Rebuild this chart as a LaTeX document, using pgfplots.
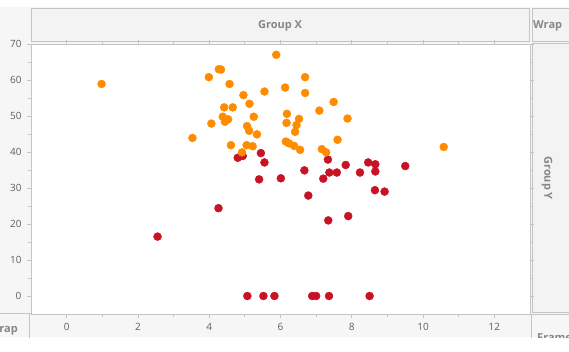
\documentclass[border=0pt]{standalone}
\usepackage{fontspec}
\setmainfont{Open Sans}
\usepackage{pgfplots}
\pgfplotsset{compat=1.18}
\definecolor{jorange}{RGB}{255,140,0}
\definecolor{jred}{RGB}{200,18,38}
\definecolor{bggray}{RGB}{246,246,246}
\definecolor{hdrgray}{RGB}{243,243,243}
\definecolor{linegray}{RGB}{196,196,196}
\definecolor{txtgray}{RGB}{135,135,135}
\definecolor{ticktxt}{RGB}{95,95,95}
\begin{document}
\begin{tikzpicture}
\useasboundingbox (0pt,0pt) rectangle (569pt,351pt);
\fill[white] (0pt,0pt) rectangle (569pt,351pt);
\fill[bggray] (0pt,14pt) rectangle (569pt,344pt);
\begin{scope}[x=1pt,y=1pt]
\clip (0,14) rectangle (569,351);
% top header
\filldraw[fill=hdrgray, draw=linegray, line width=1pt] (31,309) rectangle (529,342);
\node[font=\bfseries\fontsize{11}{13}\selectfont, text=txtgray] at (280,325.5) {Group X};
\filldraw[fill=hdrgray, draw=linegray, line width=1pt] (532,309) rectangle (580,342);
\node[anchor=west, font=\bfseries\fontsize{11}{13}\selectfont, text=txtgray, inner sep=0pt] at (533,325.5) {Wrap};
% right panel
\filldraw[fill=hdrgray, draw=linegray, line width=1pt] (532,39) rectangle (580,307);
\node[rotate=-90, font=\bfseries\fontsize{11}{13}\selectfont, text=txtgray] at (547,173) {Group Y};
% bottom right panel
\draw[linegray, line width=1pt] (531.5,0) -- (531.5,37) -- (580,37);
\node[anchor=north west, font=\bfseries\fontsize{11}{13}\selectfont, text=txtgray, inner sep=0pt] at (537,18) {Frame};
% bottom left
\draw[linegray, line width=1pt] (0,37.5) -- (31,37.5);
\draw[linegray, line width=1pt] (29,37) -- (29,10);
\node[anchor=east, font=\bfseries\fontsize{11}{13}\selectfont, text=txtgray, inner sep=0pt] at (18,21) {Wrap};
\end{scope}
\begin{axis}[
  at={(31pt,37pt)}, anchor=south west,
  scale only axis, width=499pt, height=270pt,
  xmin=-1, xmax=13, ymin=-5, ymax=70,
  xtick={0,2,...,12}, ytick={0,10,...,70},
  minor x tick num=1, minor y tick num=1,
  tick align=outside, major tick length=4pt, minor tick length=3pt,
  every tick/.style={linegray, line width=0.8pt},
  axis line style={linegray, line width=1pt},
  axis background/.style={fill=white},
  tick label style={font=\fontsize{10}{12}\selectfont, text=ticktxt},
  /pgf/number format/assume math mode=true,
  xticklabel style={yshift=-2pt},
  yticklabel style={xshift=-2pt},
  clip=false,
]
\addplot[only marks, mark=*, mark size=4pt, color=jred, mark options={draw=none, fill=jred}] coordinates {
(2.55,16.5) (4.26,24.4) (4.80,38.4) (4.94,38.9) (5.45,39.7) (5.55,37.1)
(5.40,32.4) (6.01,32.7) (6.67,34.9) (6.78,27.9) (7.33,37.9) (7.83,36.4)
(8.46,37.1) (8.66,36.6) (8.66,34.6) (8.23,34.3) (7.37,34.3) (7.58,34.3)
(7.20,32.6) (9.50,36.1) (8.65,29.4) (8.92,29.0) (7.90,22.2) (7.34,21.0)
(5.07,0) (5.52,0) (5.83,0) (6.89,0) (7.00,0) (7.36,0) (8.50,0)
};
\addplot[only marks, mark=*, mark size=4pt, color=jorange, mark options={draw=none, fill=jorange}] coordinates {
(0.98,58.9) (3.53,43.9) (3.99,60.8) (4.27,63.0) (4.33,62.9) (4.57,58.9)
(4.06,47.9) (4.42,52.4) (4.66,52.4) (4.38,49.8) (4.53,49.1) (4.44,48.4)
(4.61,41.9) (4.96,55.8) (5.13,53.4) (5.25,49.8) (5.06,47.2) (5.12,45.9)
(5.34,44.9) (5.05,41.9) (5.22,41.6) (4.92,39.9) (5.55,56.8) (5.88,67.0)
(6.13,57.9) (6.18,50.6) (6.17,48.1) (6.15,42.9) (6.24,42.4) (6.38,41.7)
(6.52,49.2) (6.45,47.5) (6.41,45.6) (6.55,40.6) (6.69,60.8) (6.69,56.4)
(7.09,51.5) (7.49,53.9) (7.88,49.3) (7.60,43.4) (7.16,40.8) (7.28,39.9)
(10.58,41.4)
};
\end{axis}
\end{tikzpicture}
\end{document}
